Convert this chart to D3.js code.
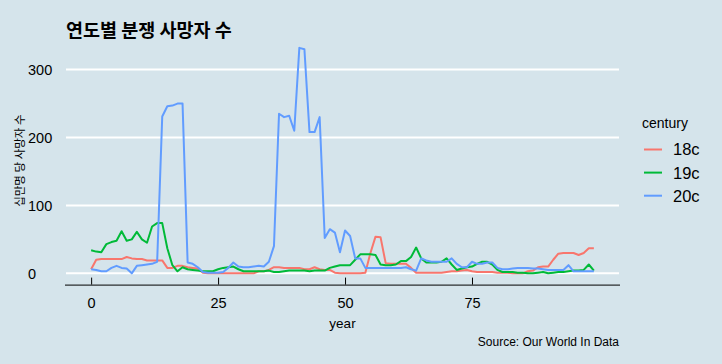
<!DOCTYPE html>
<html>
<head>
<meta charset="utf-8">
<script src="https://cdn.jsdelivr.net/npm/d3@7"></script>
<style>
html,body{margin:0;padding:0;background:#d5e4eb;}
svg{display:block;}
text{font-family:"Liberation Sans",Arial,sans-serif;fill:#000;}
.kr{font-family:"Noto Sans CJK KR","Liberation Sans",sans-serif;}
</style>
</head>
<body>
<svg id="chart" width="722" height="364"></svg>
<script>
// ---- data ----
const years = d3.range(0, 100);
const centuries = ["18c", "19c", "20c"];
const deaths18c = [6,20,21,21,21,21,21,24,22,21, 21,19,19,19,19,8,8,11,11,9,
  8,7,1,0,0,0,0,0,0,0, 0,0,0,3,3,5,9,9,8,8,
  8,8,6,6,9,6,5,5,1,0, 0,0,0,0,1,30,54,53,15,14,
  14,14,14,8,1,1,1,1,1,1, 2,3,3,4,5,3,2,2,2,2,
  1,1,1,0,0,0,3,4,9,10, 10,20,29,30,30,30,27,30,37,37];
const deaths19c = [34,32,31,43,46,48,62,48,50,61, 50,45,69,74,74,37,12,3,9,6,
  5,4,3,3,3,6,8,9,10,6, 3,3,3,3,3,4,2,2,3,4,
  4,4,4,3,4,4,4,8,10,12, 12,12,20,28,28,28,27,13,12,12,
  13,18,18,24,38,22,16,16,16,17, 22,13,5,7,9,10,14,17,17,13,
  5,2,2,2,1,1,0,0,1,2, 0,1,2,2,3,4,4,5,13,4];
const deaths20c = [6,5,3,3,8,11,8,7,0,11, 12,13,14,17,231,246,247,250,250,16,
  14,9,2,1,1,1,2,8,16,10, 9,9,10,11,10,17,40,235,230,232,
  210,332,330,208,208,230,52,65,60,31, 63,55,22,22,8,8,8,8,8,8,
  8,8,9,6,4,22,19,17,17,17, 17,22,14,9,9,17,14,14,16,16,
  8,6,6,7,8,8,8,7,7,6, 5,5,5,5,12,3,3,3,3,3];
const seriesValues = [deaths18c, deaths19c, deaths20c];
const colors = ["#F8766D", "#00BA38", "#619CFF"];
const xTicks = [0, 25, 50, 75];
const yTicks = [0, 100, 200, 300];
const titleText = "연도별 분쟁 사망자 수";
const yLabel = "십만명 당 사망자 수";
const xLabel = "year";
const legendTitle = "century";
const sourceText = "Source: Our World In Data";

// ---- layout ----
const svg = d3.select("#chart");
const W = 722, H = 364;
const panel = {left: 66, right: 619, top: 36.6, bottom: 284.6};

svg.append("rect").attr("width", W).attr("height", H).attr("fill", "#d5e4eb");

const xExt = d3.extent(years);
const xPad = (xExt[1] - xExt[0]) * 0.05;
const x = d3.scaleLinear().domain([xExt[0] - xPad, xExt[1] + xPad]).range([panel.left, panel.right]);
const allVals = seriesValues.flat();
const yExt = [Math.min(0, d3.min(allVals)), d3.max(allVals)];
const yPad = (yExt[1] - yExt[0]) * 0.05;
const y = d3.scaleLinear().domain([yExt[0] - yPad, yExt[1] + yPad]).range([panel.bottom, panel.top]);

// gridlines
svg.append("g").selectAll("line").data(yTicks).join("line")
  .attr("x1", panel.left).attr("x2", panel.right)
  .attr("y1", d => y(d)).attr("y2", d => y(d))
  .attr("stroke", "#ffffff").attr("stroke-width", 2);

// y tick labels (left aligned)
svg.append("g").selectAll("text").data(yTicks).join("text")
  .attr("x", 28).attr("y", d => y(d))
  .attr("dy", "0.36em")
  .attr("font-size", 14.5)
  .text(d => d);

// x axis line + ticks (inward)
const xAxis = d3.axisBottom(x).tickValues(xTicks).tickSize(-7).tickPadding(14);
const gx = svg.append("g").attr("transform", `translate(0,${panel.bottom})`).call(xAxis);
gx.select(".domain").remove();
gx.selectAll(".tick line").attr("stroke", "#000").attr("stroke-width", 1);
gx.selectAll(".tick text").attr("font-size", 14.5).attr("font-family", "'Liberation Sans',Arial,sans-serif").attr("fill", "#000").attr("dy", "0.71em").attr("y", 13);
svg.append("line").attr("x1", panel.left - 1).attr("x2", panel.right + 1)
  .attr("y1", panel.bottom + 0.5).attr("y2", panel.bottom + 0.5)
  .attr("stroke", "#000").attr("stroke-width", 1);

// lines
const line = d3.line().x((d, i) => x(years[i])).y(d => y(d));
svg.append("g").selectAll("path").data(seriesValues).join("path")
  .attr("d", d => line(d))
  .attr("fill", "none")
  .attr("stroke", (d, i) => colors[i])
  .attr("stroke-width", 2)
  .attr("stroke-linejoin", "round");

// title
svg.append("text").attr("class", "kr").attr("x", 66).attr("y", 37)
  .attr("font-size", 18.5).attr("font-weight", "bold").text(titleText);

// axis titles
svg.append("text").attr("class", "kr")
  .attr("transform", `translate(24,${(panel.top + panel.bottom) / 2}) rotate(-90)`)
  .attr("text-anchor", "middle").attr("font-size", 11.5).text(yLabel);
svg.append("text").attr("x", (panel.left + panel.right) / 2).attr("y", 328)
  .attr("text-anchor", "middle").attr("font-size", 13.5).text(xLabel);

// legend
const lg = svg.append("g");
lg.append("text").attr("x", 642).attr("y", 127.5).attr("font-size", 14).text(legendTitle);
const items = lg.selectAll("g.item").data(centuries).join("g").attr("class", "item")
  .attr("transform", (d, i) => `translate(0,${149.5 + i * 23.1})`);
items.append("line").attr("x1", 644).attr("x2", 662).attr("y1", 0).attr("y2", 0)
  .attr("stroke", (d, i) => colors[i]).attr("stroke-width", 2);
items.append("text").attr("x", 673).attr("y", 0).attr("dy", "0.36em")
  .attr("font-size", 16.5).text(d => d);

// caption
svg.append("text").attr("x", 619).attr("y", 346).attr("text-anchor", "end")
  .attr("font-size", 12).text(sourceText);
</script>
</body>
</html>
